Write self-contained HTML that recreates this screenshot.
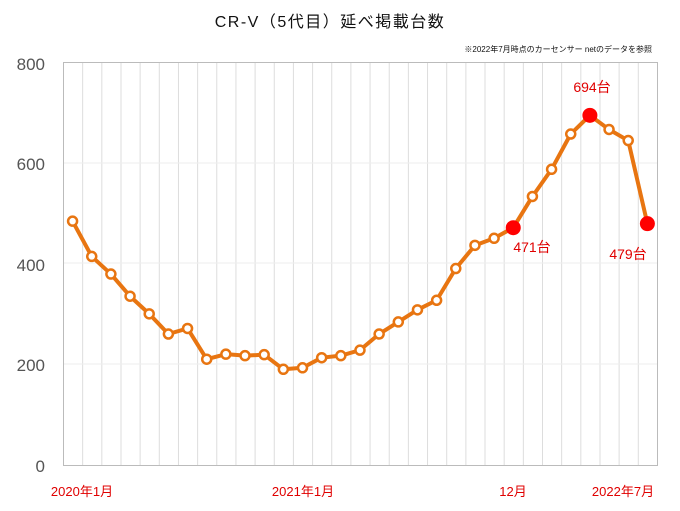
<!DOCTYPE html>
<html><head><meta charset="utf-8"><style>
body{margin:0;background:#fff}
svg{display:block}
text{font-family:"Liberation Sans","Noto Sans CJK JP",sans-serif}
</style></head><body>
<svg width="680" height="511" xmlns="http://www.w3.org/2000/svg">
<text x="330" y="27" font-size="16" text-anchor="middle" fill="#111" letter-spacing="1.5">CR-V（5代目）延べ掲載台数</text>
<text x="652" y="52" font-size="8" text-anchor="end" fill="#111">※2022年7月時点のカーセンサー netのデータを参照</text>
<g id="grid" stroke="#ddd" stroke-width="1"></g>
<g stroke="#eee"><line x1="63" y1="364" x2="657" y2="364"/><line x1="63" y1="263" x2="657" y2="263"/><line x1="63" y1="163" x2="657" y2="163"/></g>
<rect x="63.5" y="62.5" width="594" height="403" fill="none" stroke="#bbb"/>
<g font-size="17" fill="#555" text-anchor="end">
<text x="45" y="70">800</text><text x="45" y="170">600</text><text x="45" y="271">400</text><text x="45" y="371">200</text><text x="45" y="472">0</text></g>
<g font-size="13" fill="#e00000" text-anchor="middle">
<text x="82" y="496">2020年1月</text><text x="303" y="496">2021年1月</text><text x="513" y="496">12月</text><text x="623" y="496">2022年7月</text></g>
<polyline id="ln" fill="none" stroke="#e87511" stroke-width="4" stroke-linejoin="round"/>
<g id="pts"></g>
<g font-size="14" fill="#e00000" text-anchor="middle">
<text x="532" y="252">471台</text><text x="592" y="92">694台</text><text x="628" y="259">479台</text></g>
</svg>
<script>
var v=[484,414,379,335,300,260,271,210,220,217,219,190,193,213,217,228,260,284,308,327,390,436,450,471,533,587,657,694,666,644,479];
var ns="http://www.w3.org/2000/svg",g=document.getElementById('grid'),p=document.getElementById('pts'),pts=[];
for(var i=1;i<31;i++){var l=document.createElementNS(ns,'line');var x=63.5+19.16*i;l.setAttribute('x1',x);l.setAttribute('x2',x);l.setAttribute('y1',63);l.setAttribute('y2',465);g.appendChild(l);}
v.forEach(function(d,i){var x=63+19.16*(i+0.5),y=465-d*0.5038;pts.push(x+','+y);var c=document.createElementNS(ns,'circle');c.setAttribute('cx',x);c.setAttribute('cy',y);
if(i==23||i==27||i==30){c.setAttribute('r',7.5);c.setAttribute('fill','#ff0000');}else{c.setAttribute('r',4.5);c.setAttribute('fill','#fff');c.setAttribute('stroke','#e87511');c.setAttribute('stroke-width','2.5');}p.appendChild(c);});
document.getElementById('ln').setAttribute('points',pts.join(' '));
</script>
</body></html>
